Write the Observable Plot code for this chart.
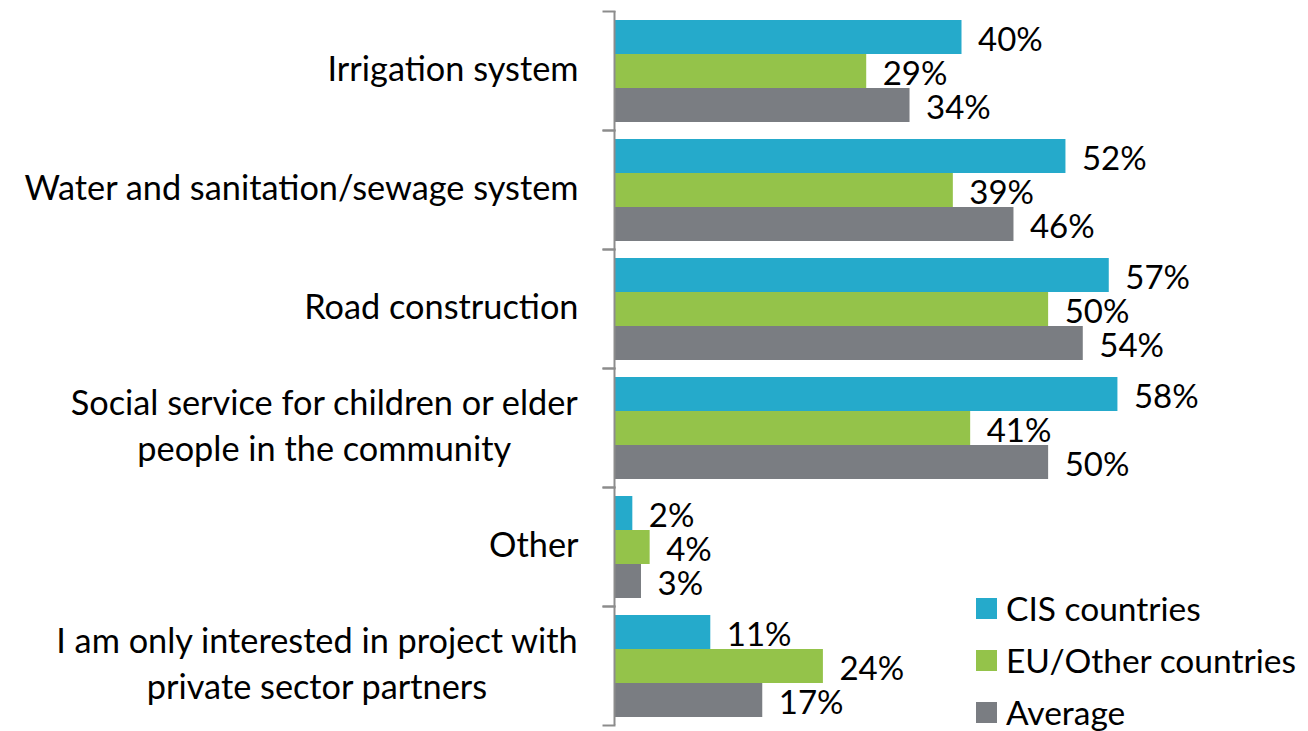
<!DOCTYPE html>
<html><head><meta charset="utf-8">
<script src="https://cdn.jsdelivr.net/npm/d3@7"></script>
<script src="https://cdn.jsdelivr.net/npm/@observablehq/plot@0.6"></script>
<style>
body{margin:0;background:#fff;}
#wrap{position:relative;width:1308px;height:731px;overflow:hidden;}
#legend{position:absolute;left:976px;top:582px;font-family:Lato,sans-serif;font-size:33.5px;color:#000;}
#legend .row{display:flex;align-items:center;height:52px;}
#legend .sw{width:21px;height:21px;margin-right:9px;flex:none;}
</style>
</head><body><div id="wrap"></div><script>
const categories = [
  "Irrigation system",
  "Water and sanitation/sewage system",
  "Road construction",
  "Social service for children or elder\npeople in the community",
  "Other",
  "I am only interested in project with\nprivate sector partners"
];
const series = ["CIS countries", "EU/Other countries", "Average"];
const cis = [40, 52, 57, 58, 2, 11];
const eu  = [29, 39, 50, 41, 4, 24];
const avg = [34, 46, 54, 50, 3, 17];
const colors = ["#25aacb", "#94c34a", "#7a7d82"];

const data = categories.flatMap((c, i) =>
  [cis, eu, avg].map((arr, j) => ({category: c, series: series[j], value: arr[i]})));

const fsLabel = 34.3;
const fsValue = 33;
const font = "Lato, sans-serif";
const ctx = document.createElement("canvas").getContext("2d");
ctx.font = `${fsLabel}px Lato`;
const gap = 37;
const axisColor = "#8c8c8c";

const labelMarks = categories.map(c => {
  const lines = c.split("\n");
  const multi = lines.length > 1;
  const w = d3.max(lines, l => ctx.measureText(l).width);
  return Plot.text([c], {
    fy: d => d, frameAnchor: "left", text: d => d,
    textAnchor: multi ? "middle" : "end",
    dx: multi ? -(gap + w / 2) : -gap, dy: -5,
    lineHeight: 1.36, fontSize: fsLabel, fill: "#000"
  });
});

const chart = Plot.plot({
  width: 1308, height: 731,
  marginLeft: 615, marginRight: 0, marginTop: 10, marginBottom: 5,
  style: {fontFamily: font, fontSize: fsValue + "px", color: "#000", background: "white"},
  x: {domain: [0, 80], axis: null},
  y: {domain: series, axis: null, paddingInner: 0, paddingOuter: 0.25},
  fy: {domain: categories, axis: null, padding: 0},
  color: {domain: series, range: colors},
  marks: [
    Plot.barX(data, {fy: "category", y: "series", x: "value", fill: "series"}),
    Plot.text(data, {fy: "category", y: "series", x: "value", text: d => d.value + "%",
      textAnchor: "start", dx: 16, dy: 3, fontSize: fsValue, fill: "#000"}),
    Plot.ruleX([0], {stroke: axisColor, strokeWidth: 2, dx: -1}),
    Plot.frame({anchor: "top", stroke: axisColor, strokeWidth: 2, insetLeft: -12, insetRight: 694}),
    Plot.frame({anchor: "bottom", stroke: axisColor, strokeWidth: 2, insetLeft: -12, insetRight: 694}),
    ...labelMarks
  ]
});

const wrap = document.getElementById("wrap");
wrap.appendChild(chart);
const legend = d3.select(wrap).append("div").attr("id", "legend");
const rows = legend.selectAll(".row").data(series).join("div").attr("class", "row");
rows.append("div").attr("class", "sw").style("background", (d, i) => colors[i]);
rows.append("span").text(d => d);
</script></body></html>
